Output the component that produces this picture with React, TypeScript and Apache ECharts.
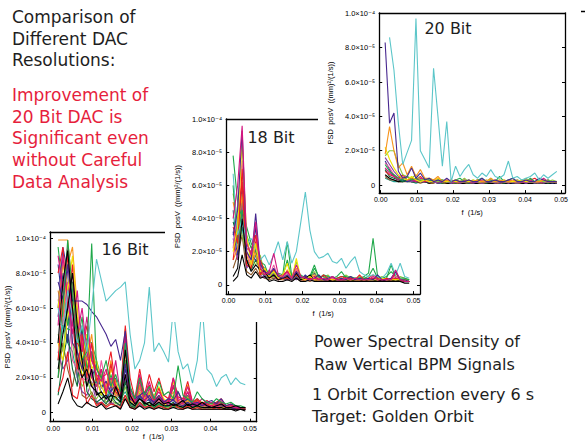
import React, { useEffect, useRef } from "react";
import * as echarts from "echarts";

// Frequency grid (1/s) shared by all BPM spectra
const FREQ = [0.00122,0.00244,0.00366,0.00488,0.0061,0.00732,0.00854,0.00976,0.01098,0.0122,0.01342,0.01464,0.01586,0.01708,0.0183,0.01952,0.02074,0.02196,0.02318,0.0244,0.02562,0.02684,0.02806,0.02928,0.0305,0.03172,0.03294,0.03416,0.03538,0.0366,0.03782,0.03904,0.04026,0.04148,0.0427,0.04392,0.04514,0.04636,0.04758,0.0488];

const X_TICKS = [0, 0.01, 0.02, 0.03, 0.04, 0.05];
const X_TICK_LABELS = ["0.00", "0.01", "0.02", "0.03", "0.04", "0.05"];
// PSD values are in units of 1e-6 (mm)^2/(1/s)
const Y_TICKS = [0, 20, 40, 60, 80, 100];
const Y_TICK_LABELS = ["0", "2.0×10⁻⁵", "4.0×10⁻⁵", "6.0×10⁻⁵", "8.0×10⁻⁵", "1.0×10⁻⁴"];
const X_NAME = "f\u00a0\u00a0(1/s)";
const Y_NAME = "PSD\u00a0\u00a0posV\u00a0\u00a0((mm)²/(1/s))";

const LEFT_LINES = ["Comparison of", "Different DAC", "Resolutions:"];
const RED_LINES = ["Improvement of", "20 Bit DAC is", "Significant even", "without Careful", "Data Analysis"];
const NOTE_LINES = ["Power Spectral Density of", "Raw Vertical BPM Signals"];
const NOTE2_LINES = ["1 Orbit Correction every 6 s", "Target: Golden Orbit"];

const COL = {
  cyan: "#5cc6c9", purple: "#47278f", orange: "#f7941d", yellow: "#f0e300",
  lgreen: "#8cc63f", green: "#1fa84a", red: "#ed1c24", magenta: "#d4147f",
  black: "#000000", blue: "#2e3192", teal: "#1b9e8f", violet: "#8a3ea3",
  brown: "#8c5a2b", dgreen: "#0d6b38", pink: "#ee5aa0",
};

// ---------- 20 Bit ----------
const B20_CYAN = [null,86,67,36,12,19,26,97,20,15,10,68,40,11,37,2,11,5,9,12,6,4,7,5,9,5,4,6,14,4,5,3,4,5,7,3,6,4,6,8];
const B20_PURPLE = [83,36,42,8,4,5,10,4,7,3,4,2,3,2,4,2,3,2,2,3,2,2,4,2,2,3,2,2,3,4,2,2,3,2,2,4,3,2,2,2];
const B20_ORANGE = [18,34,20,10,13,6,11,5,9,4,4,3,5,2,3,2,3,2,2,3,2,3,2,2,4,2,3,2,2,3,2,2,3,2,2,2,3,2,2,2];
const B20_YELLOW = [22,15,10,6,4,3,5,3,2,3,2,2,4,2,2,3,2,2,2,2,3,2,2,3,2,2,2,3,2,2,2,3,2,2,2,2,3,2,2,2];
const B20_LGREEN = [17,20,20,12,6,5,4,6,3,3,4,3,2,3,2,2,3,2,4,2,3,2,2,2,4,2,3,2,2,2,3,2,4,2,2,3,2,2,3,2];
const B20_GREEN = [12,8,6,4,3,5,3,4,2,4,3,2,3,3,2,2,3,4,2,3,2,3,4,2,3,2,5,2,3,4,2,3,2,4,2,3,2,3,2,2];
const B20_RED = [8,6,5,4,6,3,4,3,5,2,3,2,4,2,2,3,2,2,3,2,2,3,2,2,2,3,2,3,2,2,3,2,2,3,4,2,2,3,2,2];
const B20_MAGENTA = [10,7,5,3,4,5,3,2,4,3,2,3,2,2,3,2,2,2,3,2,2,2,3,2,3,2,2,2,3,2,2,2,2,3,2,2,4,2,2,2];
const B20_BLACK = [6,4,3,2,2,3,2,2,2,2,1,2,1,2,1,1,2,1,1,2,1,1,2,1,1,1,2,1,1,1,2,1,1,1,1,2,1,1,1,1];
const B20_BLUE = [14,9,5,3,3,2,3,2,3,2,2,3,2,2,2,1,2,2,2,1,2,2,1,2,2,2,1,2,2,1,2,2,1,2,2,1,2,2,1,2];
const B20_TEAL = [4,3,2,2,3,2,2,1,2,2,1,2,1,1,2,1,1,1,2,1,1,1,2,1,1,2,1,1,1,1,2,1,1,1,2,1,1,1,1,1];
const B20_VIOLET = [16,12,8,5,4,3,2,3,2,2,2,2,1,2,2,1,2,1,2,2,1,2,1,2,2,1,2,2,1,2,1,2,1,2,1,2,1,2,2,1];
const B20_DGREEN = [9,5,4,3,2,3,2,2,3,2,2,2,2,1,2,2,1,2,2,1,2,2,2,1,2,2,2,1,2,2,1,2,2,2,1,2,2,1,2,1];
const B20_PINK = [13,10,6,4,5,3,4,3,2,3,2,2,2,3,2,2,2,2,2,2,2,2,2,3,2,2,2,2,2,2,2,2,2,2,2,2,2,2,2,2];
const B20_BROWN = [5,3,3,2,2,2,2,2,1,2,1,1,2,1,1,1,1,1,1,1,1,1,1,1,1,1,1,1,1,1,1,1,1,1,1,1,1,1,1,1];

// ---------- 18 Bit ----------
const E18_CYAN = [67,30,40,25,28,22,15,18,12,18,26,15,26,13,20,38,56,33,20,16,17,19,14,13,16,10,14,17,8,6,5,6,5,4,7,13,6,13,5,4];
const E18_PURPLE = [30,45,93,20,15,43,12,8,6,10,5,4,6,3,8,4,5,3,4,6,3,4,5,3,4,3,5,3,4,3,4,3,6,3,3,4,8,3,3,2];
const E18_MAGENTA = [40,60,96,25,18,38,10,6,8,19,6,5,8,4,12,5,4,3,4,3,4,3,5,3,3,4,3,4,3,3,3,5,3,3,3,3,9,3,2,2];
const E18_YELLOW = [20,35,86,30,12,25,8,10,5,8,4,6,13,3,16,4,3,5,3,3,3,4,3,3,4,3,3,3,3,3,3,3,3,4,3,3,3,3,3,2];
const E18_RED = [35,25,70,22,20,30,15,8,7,9,5,6,8,4,6,4,5,4,5,3,6,4,3,4,5,4,4,3,6,3,4,6,4,3,4,3,7,3,3,2];
const E18_GREEN = [78,50,40,30,22,28,12,10,6,5,7,6,26,5,8,6,4,5,12,4,6,5,4,5,8,4,5,4,4,5,7,28,5,4,5,8,5,4,4,3];
const E18_LGREEN = [55,40,30,20,15,12,18,6,8,7,4,5,6,4,14,3,5,4,8,3,4,6,3,4,3,6,4,3,5,3,4,3,4,5,3,4,3,5,4,3];
const E18_BLACK = [5,10,40,15,8,12,9,8,4,6,3,4,5,3,7,3,4,6,3,3,3,3,2,3,3,3,2,3,3,2,3,3,2,3,2,3,2,3,2,2];
const E18_ORANGE = [15,22,55,18,10,20,6,7,4,5,4,3,5,3,6,3,3,4,3,3,4,3,3,3,3,3,4,3,3,3,3,3,3,3,3,3,3,3,3,2];
const E18_BLUE = [25,30,60,15,12,35,8,5,6,7,4,3,4,3,5,3,6,3,3,5,3,3,4,3,3,3,3,4,3,3,3,3,3,3,3,3,4,3,3,2];
const E18_TEAL = [45,20,35,12,10,18,7,6,5,4,5,4,3,4,4,3,3,4,3,3,3,4,3,3,3,3,3,3,3,3,3,3,3,3,3,3,3,3,3,2];
const E18_VIOLET = [28,15,50,10,14,22,6,4,9,5,3,4,3,5,3,4,3,3,4,3,3,3,3,3,4,3,3,3,3,3,3,3,3,3,3,3,3,3,2,2];
const E18_BROWN = [10,18,30,8,6,10,5,4,3,4,3,3,3,3,4,2,3,2,3,2,3,2,3,2,3,2,3,2,3,2,3,2,3,2,3,2,3,2,2,2];
const E18_DGREEN = [38,28,45,14,9,15,10,5,4,6,3,4,4,3,5,3,3,3,3,4,3,3,3,3,3,3,3,3,3,4,3,3,3,3,3,3,3,3,3,2];
const E18_ORANGE2 = [50,35,65,28,16,30,9,6,7,8,5,4,9,4,10,4,3,5,6,3,4,3,4,3,4,3,3,4,3,3,3,4,3,3,3,3,4,3,2,2];
const E18_GREEN2 = [60,25,45,35,25,20,14,12,5,9,6,5,15,4,6,5,4,4,10,5,5,4,3,4,5,5,4,3,4,4,5,10,4,3,4,12,4,3,3,3];
const E18_PINK = [22,48,75,20,12,28,11,7,5,12,4,5,7,3,9,3,4,3,4,4,3,3,4,3,3,3,3,3,3,3,3,3,3,3,3,3,5,3,2,2];
const E18_BLUE2 = [32,18,55,26,18,15,13,9,7,5,5,4,5,3,6,3,4,4,7,3,3,3,3,3,3,3,4,3,3,3,3,3,3,3,3,3,3,3,2,2];
const E18_RED2 = [15,38,62,12,10,26,6,10,4,6,3,4,4,3,8,3,3,4,3,3,3,3,3,3,3,3,3,3,3,3,3,4,3,3,3,3,4,3,2,2];
const E18_BLACK2 = [2,5,18,6,4,8,4,5,2,3,2,2,3,2,4,2,2,3,2,2,2,2,2,2,2,2,2,2,2,2,2,2,2,2,2,2,2,2,1,1];

// ---------- 16 Bit ----------
const S16_CYAN = [60,45,70,55,40,50,35,60,88,76,64,67,70,72,75,45,25,30,40,72,35,40,35,29,60,35,25,28,17,30,62,25,22,15,20,22,16,20,17,16];
const S16_BLACK = [40,75,93,60,30,20,25,15,12,8,10,6,15,8,36,10,5,8,6,4,5,8,5,6,4,5,7,4,5,4,6,4,3,4,5,3,3,4,3,3];
const S16_GREEN = [20,60,99,70,45,30,35,97,25,20,30,15,22,12,40,15,8,20,10,15,8,18,10,12,8,27,10,8,6,12,8,6,5,8,6,5,6,4,4,3];
const S16_GREEN2 = [51,50,48,47,45,44,42,40,30,20,15,10,8,6,10,5,4,6,4,3,4,5,3,4,3,5,4,3,3,4,3,3,3,3,3,3,3,3,2,2];
const S16_ORANGE = [99,99,99,70,50,40,30,45,20,18,15,30,12,10,42,10,6,15,8,10,6,8,6,5,10,6,5,7,5,6,4,5,4,5,4,3,4,3,3,3];
const S16_RED = [80,95,60,85,40,35,50,30,25,20,22,35,15,12,50,20,8,25,10,22,12,20,10,8,20,9,8,18,6,8,5,7,5,6,8,4,5,3,3,3];
const S16_YELLOW = [60,85,70,90,55,30,45,25,30,15,10,25,18,10,48,12,6,20,8,12,10,15,8,6,18,7,6,16,5,7,6,5,4,5,6,4,3,4,3,3];
const S16_MAGENTA = [90,70,95,50,45,60,35,20,15,25,12,20,15,8,40,12,7,22,9,18,8,12,7,6,20,8,7,15,6,5,8,5,6,4,7,3,4,3,3,3];
const S16_PURPLE = [75,65,85,64,64,64,62,58,55,50,45,38,42,30,47,14,8,10,12,8,6,10,6,8,7,12,6,8,5,6,4,6,7,5,8,4,5,4,3,3];
const S16_BLUE = [55,80,50,70,35,25,20,15,18,12,8,12,20,6,30,8,5,10,6,8,5,6,5,4,5,6,4,5,4,5,3,4,3,5,4,3,3,3,3,2];
const S16_TEAL = [30,50,40,35,20,40,15,22,12,10,8,15,10,8,12,6,4,8,5,6,4,5,4,3,4,5,3,4,3,4,3,3,3,3,3,3,3,2,2,2];
const S16_LGREEN = [45,35,60,40,25,15,20,10,8,12,6,8,5,6,15,4,3,6,4,5,3,4,3,3,4,3,3,4,3,3,2,3,2,3,2,2,2,2,2,2];
const S16_VIOLET = [35,25,30,55,20,12,10,18,6,5,8,5,6,4,20,5,3,5,3,4,3,4,3,3,3,4,3,3,3,3,3,2,3,2,3,2,2,2,2,2];
const S16_BROWN = [20,40,25,15,30,10,8,12,5,6,4,6,4,5,8,3,3,4,3,3,3,3,2,3,3,3,2,3,2,3,2,2,2,2,2,2,2,2,2,2];
const S16_DGREEN = [10,30,45,25,15,50,12,8,6,8,5,10,6,4,18,4,3,12,4,6,3,5,3,4,6,3,4,8,3,4,3,4,3,3,4,2,3,2,2,2];
const S16_BLACK2 = [5,12,20,8,4,3,6,4,3,5,2,3,4,2,8,3,2,4,2,3,2,3,2,2,3,2,2,3,2,2,2,2,2,2,2,2,2,1,2,1];
const S16_PINK = [65,50,75,30,25,20,18,25,10,30,15,12,10,9,22,8,5,14,6,9,5,7,5,6,9,5,4,10,4,5,4,4,3,4,5,3,3,3,2,2];
const S16_RED2 = [12,20,35,10,8,22,5,10,4,6,3,5,4,3,10,3,2,6,3,4,2,4,3,2,5,3,2,4,2,3,2,2,2,3,2,2,2,2,2,2];
const S16_ORANGE2 = [70,55,85,95,60,25,40,20,15,22,12,18,10,14,35,9,6,16,7,11,6,10,5,7,12,5,6,9,4,6,5,4,4,5,4,3,3,3,3,2];
const S16_BLUE2 = [85,60,40,75,50,45,30,35,20,15,18,10,14,9,25,12,6,9,8,7,5,9,4,5,8,4,5,6,4,4,3,4,3,3,4,3,3,2,2,2];
const S16_MAGENTA2 = [50,90,65,45,70,35,55,30,22,18,25,14,30,10,44,9,5,18,6,14,6,9,6,5,16,6,5,12,4,6,5,4,4,3,5,3,3,3,2,2];
const S16_GREEN3 = [95,70,50,60,40,55,25,35,15,20,10,22,12,8,30,10,7,15,8,12,7,10,6,8,14,12,6,10,5,8,5,5,4,6,5,4,4,3,3,3];
const S16_YELLOW2 = [40,30,55,65,45,20,30,15,20,10,14,20,8,12,38,7,5,12,6,9,5,7,4,6,9,4,5,7,4,5,3,4,3,4,3,3,3,3,2,2];
const S16_PURPLE2 = [60,95,80,40,35,25,45,20,28,14,18,12,16,8,28,8,6,10,7,10,5,8,5,6,7,5,4,6,4,5,4,4,3,4,4,3,3,2,2,2];
const S16_RED3 = [30,65,90,55,25,45,20,40,18,25,10,28,12,9,45,10,6,20,9,16,7,14,6,7,15,7,6,12,5,7,4,5,4,5,6,3,4,3,2,2];
const S16_BLACK3 = [25,45,60,80,50,30,15,25,10,12,8,10,9,6,22,6,4,8,5,6,4,6,4,4,5,4,3,5,3,4,3,3,3,3,3,2,2,2,2,2];

const TICK_FONT = "'Liberation Sans', 'DejaVu Sans', sans-serif";
const SLIDE_FONT = "'DejaVu Sans', sans-serif";

type Line = { name: string; color: string; data: (number | null)[] };
type PanelSpec = {
  left: number; top: number; width: number; height: number;
  xMin: number; xMax: number; yMin: number; yMax: number;
  lines: Line[];
};

const fmtX = (v: number) => {
  const i = X_TICKS.findIndex((t) => Math.abs(t - v) < 1e-9);
  return i >= 0 ? X_TICK_LABELS[i] : "";
};
const fmtY = (v: number) => {
  const i = Y_TICKS.findIndex((t) => Math.abs(t - v) < 1e-9);
  return i >= 0 ? Y_TICK_LABELS[i] : "";
};

function buildPanel(p: PanelSpec) {
  const axisLine = { show: true, onZero: false, lineStyle: { color: "#000", width: 1.3 } };
  const tickStyle = { color: "#000", width: 1 };
  const xC = { type: "value", min: p.xMin, max: p.xMax, splitLine: { show: false } };
  const yC = { type: "value", min: p.yMin, max: p.yMax, splitLine: { show: false } };
  return {
    grid: { left: p.left, top: p.top, width: p.width, height: p.height },
    xAxis: [
      {
        ...xC, position: "bottom", axisLine,
        axisTick: { show: true, inside: true, length: 3, customValues: X_TICKS, lineStyle: tickStyle },
        axisLabel: { show: true, customValues: X_TICKS, formatter: fmtX, fontSize: 7, color: "#000", fontFamily: TICK_FONT, margin: 3 },
        name: X_NAME, nameLocation: "middle", nameGap: 11,
        nameTextStyle: { fontSize: 7.5, color: "#000", fontFamily: TICK_FONT },
      },
      { ...xC, position: "top", axisLine, axisTick: { show: false }, axisLabel: { show: false } },
    ],
    yAxis: [
      {
        ...yC, position: "left", axisLine,
        axisTick: { show: true, inside: true, length: 3, customValues: Y_TICKS, lineStyle: tickStyle },
        axisLabel: { show: true, customValues: Y_TICKS, formatter: fmtY, fontSize: 7.5, color: "#000", fontFamily: TICK_FONT, margin: 4 },
        name: Y_NAME, nameLocation: "middle", nameRotate: 90, nameGap: 32,
        nameTextStyle: { fontSize: 7.5, color: "#000", fontFamily: TICK_FONT },
      },
      {
        ...yC, position: "right", axisLine,
        axisTick: { show: true, inside: true, length: 3, customValues: Y_TICKS, lineStyle: tickStyle },
        axisLabel: { show: false },
      },
    ],
    series: p.lines.map((l) => ({
      name: l.name, type: "line", xAxisIndex: 0, yAxisIndex: 0,
      data: FREQ.map((f, i) => [f, l.data[i]]),
      showSymbol: false, symbol: "none", silent: true, clip: true, connectNulls: false,
      lineStyle: { color: l.color, width: 1.1 }, itemStyle: { color: l.color },
    })),
  };
}

function txt(text: string, x: number, y: number, size: number, color: string, align = "left") {
  return {
    type: "text", x, y, z: 100, silent: true,
    style: {
      text, fill: color, fontSize: size, fontFamily: SLIDE_FONT,
      textAlign: align, align, textVerticalAlign: "middle", verticalAlign: "middle",
    },
  };
}

const P16: PanelSpec = {
  left: 50, top: 232, width: 206.7, height: 189.7,
  xMin: -0.00084, xMax: 0.0517, yMin: -5.16, yMax: 103.6,
  lines: [
    { name: "teal", color: COL.teal, data: S16_TEAL },
    { name: "brown", color: COL.brown, data: S16_BROWN },
    { name: "violet", color: COL.violet, data: S16_VIOLET },
    { name: "lgreen", color: COL.lgreen, data: S16_LGREEN },
    { name: "dgreen", color: COL.dgreen, data: S16_DGREEN },
    { name: "blue", color: COL.blue, data: S16_BLUE },
    { name: "blue2", color: COL.blue, data: S16_BLUE2 },
    { name: "green2", color: COL.green, data: S16_GREEN2 },
    { name: "yellow2", color: COL.yellow, data: S16_YELLOW2 },
    { name: "red2", color: COL.red, data: S16_RED2 },
    { name: "pink", color: COL.pink, data: S16_PINK },
    { name: "green3", color: COL.green, data: S16_GREEN3 },
    { name: "orange2", color: COL.orange, data: S16_ORANGE2 },
    { name: "orange", color: COL.orange, data: S16_ORANGE },
    { name: "purple2", color: COL.purple, data: S16_PURPLE2 },
    { name: "yellow", color: COL.yellow, data: S16_YELLOW },
    { name: "red3", color: COL.red, data: S16_RED3 },
    { name: "red", color: COL.red, data: S16_RED },
    { name: "magenta2", color: COL.magenta, data: S16_MAGENTA2 },
    { name: "magenta", color: COL.magenta, data: S16_MAGENTA },
    { name: "purple", color: COL.purple, data: S16_PURPLE },
    { name: "green", color: COL.green, data: S16_GREEN },
    { name: "cyan", color: COL.cyan, data: S16_CYAN },
    { name: "black3", color: COL.black, data: S16_BLACK3 },
    { name: "black2", color: COL.black, data: S16_BLACK2 },
    { name: "black", color: COL.black, data: S16_BLACK },
  ],
};

const P18: PanelSpec = {
  left: 51, top: 18.8, width: 204, height: 187.9,
  xMin: -0.00064, xMax: 0.05172, yMin: -5.63, yMax: 100.2,
  lines: [
    { name: "teal", color: COL.teal, data: E18_TEAL },
    { name: "brown", color: COL.brown, data: E18_BROWN },
    { name: "dgreen", color: COL.dgreen, data: E18_DGREEN },
    { name: "violet", color: COL.violet, data: E18_VIOLET },
    { name: "blue", color: COL.blue, data: E18_BLUE },
    { name: "blue2", color: COL.blue, data: E18_BLUE2 },
    { name: "lgreen", color: COL.lgreen, data: E18_LGREEN },
    { name: "orange", color: COL.orange, data: E18_ORANGE },
    { name: "orange2", color: COL.orange, data: E18_ORANGE2 },
    { name: "green2", color: COL.green, data: E18_GREEN2 },
    { name: "green", color: COL.green, data: E18_GREEN },
    { name: "pink", color: COL.pink, data: E18_PINK },
    { name: "red2", color: COL.red, data: E18_RED2 },
    { name: "red", color: COL.red, data: E18_RED },
    { name: "cyan", color: COL.cyan, data: E18_CYAN },
    { name: "black2", color: COL.black, data: E18_BLACK2 },
    { name: "black", color: COL.black, data: E18_BLACK },
    { name: "yellow", color: COL.yellow, data: E18_YELLOW },
    { name: "purple", color: COL.purple, data: E18_PURPLE },
    { name: "magenta", color: COL.magenta, data: E18_MAGENTA },
  ],
};

const P20: PanelSpec = {
  left: 40.3, top: 12.8, width: 206.7, height: 186.2,
  xMin: -0.00042, xMax: 0.05107, yMin: -4.68, yMax: 100.3,
  lines: [
    { name: "teal", color: COL.teal, data: B20_TEAL },
    { name: "brown", color: COL.brown, data: B20_BROWN },
    { name: "black", color: COL.black, data: B20_BLACK },
    { name: "blue", color: COL.blue, data: B20_BLUE },
    { name: "dgreen", color: COL.dgreen, data: B20_DGREEN },
    { name: "violet", color: COL.violet, data: B20_VIOLET },
    { name: "pink", color: COL.pink, data: B20_PINK },
    { name: "red", color: COL.red, data: B20_RED },
    { name: "magenta", color: COL.magenta, data: B20_MAGENTA },
    { name: "green", color: COL.green, data: B20_GREEN },
    { name: "lgreen", color: COL.lgreen, data: B20_LGREEN },
    { name: "yellow", color: COL.yellow, data: B20_YELLOW },
    { name: "orange", color: COL.orange, data: B20_ORANGE },
    { name: "purple", color: COL.purple, data: B20_PURPLE },
    { name: "cyan", color: COL.cyan, data: B20_CYAN },
  ],
};

const BLACK_TXT = "#1e1e1e";
const RED_TXT = "#e61e3c";

const BASE_OPTION = {
  animation: false,
  backgroundColor: "#fff",
  ...buildPanel(P16),
  graphic: [
    ...LEFT_LINES.map((t, i) => txt(t, 12, 17 + i * 21.5, 17, BLACK_TXT)),
    ...RED_LINES.map((t, i) => txt(t, 12, 95 + i * 21.7, 17, RED_TXT)),
    ...NOTE_LINES.map((t, i) => txt(t, 314, 341.5 + i * 22.5, 16, BLACK_TXT)),
    ...NOTE2_LINES.map((t, i) => txt(t, 312, 394.5 + i * 22, 16, BLACK_TXT)),
    txt("16 Bit", 125, 249, 16, BLACK_TXT, "center"),
  ],
};

const OPT18 = {
  animation: false,
  backgroundColor: "#fff",
  ...buildPanel(P18),
  graphic: [txt("18 Bit", 106, 37, 16, BLACK_TXT, "center")],
};

const OPT20 = {
  animation: false,
  backgroundColor: "#fff",
  ...buildPanel(P20),
  graphic: [
    txt("20 Bit", 130, 28.5, 16, BLACK_TXT, "center"),
    { type: "line", z: 100, silent: true, shape: { x1: 263, y1: 11.5, x2: 267, y2: 11.5 }, style: { stroke: "#000", lineWidth: 1.5 } },
  ],
};

function EChart({ option, style }: { option: any; style: React.CSSProperties }) {
  const ref = useRef<HTMLDivElement>(null);
  useEffect(() => {
    if (!ref.current) return;
    const chart = echarts.init(ref.current, undefined, { renderer: "svg" });
    chart.setOption(option);
    return () => chart.dispose();
  }, [option]);
  return <div ref={ref} style={style} />;
}

export default function App() {
  return (
    <div style={{ position: "absolute", left: 0, top: 0, width: 585, height: 443, background: "#fff", overflow: "hidden" }}>
      <EChart option={BASE_OPTION} style={{ position: "absolute", left: 0, top: 0, width: 585, height: 443 }} />
      <EChart option={OPT18} style={{ position: "absolute", left: 165, top: 100, width: 270, height: 222, background: "#fff" }} />
      <EChart option={OPT20} style={{ position: "absolute", left: 318, top: 0, width: 267, height: 221, background: "#fff" }} />
    </div>
  );
}
